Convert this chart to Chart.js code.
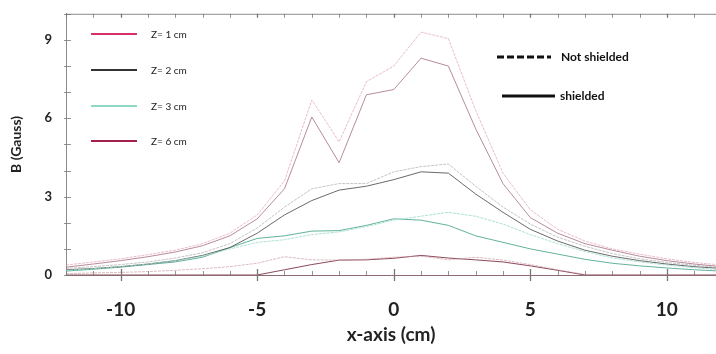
<!DOCTYPE html>
<html>
<head>
<meta charset="utf-8">
<script src="https://cdn.jsdelivr.net/npm/chart.js@4"></script>
<style>
  html, body { margin: 0; padding: 0; background: #fff; }
  #wrap { width: 716px; height: 354px; }
</style>
</head>
<body>
<div id="wrap"><canvas id="grafico" width="716" height="354"></canvas></div>
<script>
// posições no eixo x (cm)
var xPos = [-12, -11, -10, -9, -8, -7, -6, -5, -4, -3, -2, -1, 0, 1, 2, 3, 4, 5, 6, 7, 8, 9, 10, 11, 12];

// campo B (Gauss) - sem blindagem
var z1Open = [0.38, 0.5, 0.62, 0.78, 0.95, 1.2, 1.6, 2.3, 3.6, 6.7, 5.1, 7.4, 8.0, 9.3, 9.05, 6.3, 3.9, 2.5, 1.75, 1.3, 1.0, 0.8, 0.62, 0.48, 0.38];
var z2Open = [0.25, 0.32, 0.4, 0.5, 0.65, 0.85, 1.2, 1.8, 2.6, 3.3, 3.5, 3.5, 3.95, 4.15, 4.25, 3.4, 2.6, 1.95, 1.45, 1.1, 0.82, 0.62, 0.48, 0.37, 0.28];
var z3Open = [0.18, 0.24, 0.32, 0.42, 0.55, 0.72, 1.0, 1.25, 1.35, 1.55, 1.65, 1.85, 2.1, 2.25, 2.4, 2.25, 1.95, 1.55, 1.2, 0.9, 0.65, 0.5, 0.38, 0.28, 0.2];
var z6Open = [0.05, 0.08, 0.1, 0.13, 0.18, 0.24, 0.32, 0.45, 0.7, 0.58, 0.57, 0.6, 0.68, 0.72, 0.58, 0.68, 0.57, 0.4, 0.2, 0.02, 0, 0, 0, 0, 0];

// campo B (Gauss) - com blindagem
var z1Shield = [0.3, 0.42, 0.55, 0.7, 0.88, 1.12, 1.5, 2.15, 3.3, 6.05, 4.3, 6.9, 7.1, 8.3, 8.0, 5.6, 3.5, 2.2, 1.6, 1.2, 0.95, 0.72, 0.55, 0.42, 0.32];
var z2Shield = [0.2, 0.25, 0.32, 0.42, 0.55, 0.75, 1.05, 1.6, 2.3, 2.85, 3.25, 3.4, 3.65, 3.95, 3.9, 3.1, 2.4, 1.75, 1.3, 0.95, 0.72, 0.55, 0.42, 0.32, 0.25];
var z3Shield = [0.15, 0.22, 0.3, 0.4, 0.5, 0.68, 1.05, 1.4, 1.5, 1.68, 1.7, 1.9, 2.15, 2.1, 1.9, 1.5, 1.25, 1.0, 0.8, 0.6, 0.45, 0.35, 0.27, 0.2, 0.15];
var z6Shield = [0, 0, 0, 0, 0, 0, 0, 0, 0.2, 0.4, 0.57, 0.58, 0.64, 0.75, 0.65, 0.58, 0.5, 0.35, 0.18, 0, 0, 0, 0, 0, 0];

var zLabels = ['Z= 1 cm', 'Z= 2 cm', 'Z= 3 cm', 'Z= 6 cm'];
var yLabelTicks = [0, 3, 6, 9];
var xLabelTicks = [-10, -5, 0, 5, 10];

var legendColors = ['#d8306a', '#333333', '#8fd6c4', '#a3204c'];

function pts(arr) {
  return arr.map(function (v, i) { return { x: xPos[i], y: v }; });
}

function serie(arr, color, dashed) {
  return {
    data: pts(arr),
    borderColor: color,
    borderWidth: 1,
    borderDash: dashed ? [3, 1] : [],
    pointRadius: 0,
    tension: 0,
    fill: false
  };
}

var datasets = [
  serie(z1Open, 'rgba(225,160,180,0.7)', true),
  serie(z2Open, 'rgba(165,165,165,0.65)', true),
  serie(z3Open, 'rgba(160,220,205,0.85)', true),
  serie(z6Open, 'rgba(200,150,160,0.65)', true),
  serie(z1Shield, 'rgba(170,120,135,0.85)', false),
  serie(z2Shield, 'rgba(80,80,80,0.85)', false),
  serie(z3Shield, 'rgba(70,165,140,0.85)', false),
  serie(z6Shield, 'rgba(120,40,60,0.85)', false)
];

// moldura, marcas dos eixos e legendas desenhadas à mão
var extras = {
  id: 'extras',
  afterDraw: function (chart) {
    var ctx = chart.ctx, xs = chart.scales.x, ys = chart.scales.y, a = chart.chartArea;
    ctx.save();
    ctx.strokeStyle = '#8c8c8c';
    ctx.lineWidth = 1;
    ctx.beginPath();
    ctx.moveTo(a.left, a.top + 0.5);
    ctx.lineTo(a.right, a.top + 0.5);
    ctx.stroke();

    ctx.strokeStyle = '#777';
    for (var v = -12; v <= 11; v++) {
      var px = Math.round(xs.getPixelForValue(v)) + 0.5;
      ctx.beginPath();
      if (v % 5 === 0) {
        ctx.lineWidth = 1.3;
        ctx.moveTo(px, a.bottom - 6); ctx.lineTo(px, a.bottom + 6);
      } else {
        ctx.lineWidth = 0.8;
        ctx.moveTo(px, a.bottom - 4); ctx.lineTo(px, a.bottom);
      }
      ctx.moveTo(px, a.top); ctx.lineTo(px, a.top + 4);
      ctx.stroke();
    }
    ctx.lineWidth = 0.8;
    for (var y = 0; y <= 10; y++) {
      var py = Math.round(ys.getPixelForValue(y)) + 0.5;
      ctx.beginPath();
      ctx.moveTo(a.left - 2, py); ctx.lineTo(a.left + 5, py);
      ctx.stroke();
    }

    // legenda das distâncias
    var rows = [34, 70, 106, 141];
    ctx.font = '10px Lato';
    ctx.textBaseline = 'middle';
    ctx.fillStyle = '#222';
    for (var i = 0; i < zLabels.length; i++) {
      ctx.strokeStyle = legendColors[i];
      ctx.lineWidth = 2;
      ctx.beginPath();
      ctx.moveTo(91, rows[i]); ctx.lineTo(137, rows[i]);
      ctx.stroke();
      ctx.fillText(zLabels[i], 151, rows[i] + 1);
    }

    // legenda do tipo de linha
    ctx.strokeStyle = '#111';
    ctx.lineWidth = 3;
    ctx.setLineDash([7, 3]);
    ctx.beginPath();
    ctx.moveTo(497, 57); ctx.lineTo(551, 57);
    ctx.stroke();
    ctx.setLineDash([]);
    ctx.beginPath();
    ctx.moveTo(502, 96); ctx.lineTo(555, 96);
    ctx.stroke();
    ctx.font = 'bold 12px Lato';
    ctx.fillStyle = '#111';
    ctx.fillText('Not shielded', 561, 57);
    ctx.fillText('shielded', 560, 96);
    ctx.restore();
  }
};

var ctx = document.getElementById('grafico').getContext('2d');
new Chart(ctx, {
  type: 'line',
  data: { datasets: datasets },
  options: {
    responsive: false,
    animation: false,
    layout: { padding: { top: 8, right: 0, left: 0, bottom: 0 } },
    plugins: { legend: { display: false }, tooltip: { enabled: false } },
    scales: {
      x: {
        type: 'linear',
        min: -12,
        max: 11.8,
        afterFit: function (s) { s.height = 79; },
        afterBuildTicks: function (s) {
          s.ticks = xLabelTicks.map(function (v) { return { value: v }; });
        },
        grid: { display: false },
        border: { display: true, color: '#8c6a72', width: 1 },
        ticks: {
          padding: 15,
          color: '#222',
          font: { family: 'Lato', size: 19, weight: 'bold' },
          maxRotation: 0
        },
        title: {
          display: true,
          text: 'x-axis (cm)',
          color: '#222',
          font: { family: 'Lato', size: 19, weight: 'bold' },
          padding: { top: 0, bottom: 8 }
        }
      },
      y: {
        min: 0,
        max: 10,
        afterFit: function (s) { s.width = 66; },
        afterBuildTicks: function (s) {
          s.ticks = yLabelTicks.map(function (v) { return { value: v }; });
        },
        grid: { display: false },
        border: { display: true, color: '#8c8c8c', width: 1 },
        ticks: {
          padding: 6,
          color: '#222',
          font: { family: 'Lato', size: 13, weight: 'bold' }
        },
        title: {
          display: true,
          text: 'B (Gauss)',
          color: '#222',
          font: { family: 'Lato', size: 14, weight: 'bold' },
          padding: { top: 8, bottom: 0 }
        }
      }
    }
  },
  plugins: [extras]
});
</script>
</body>
</html>
